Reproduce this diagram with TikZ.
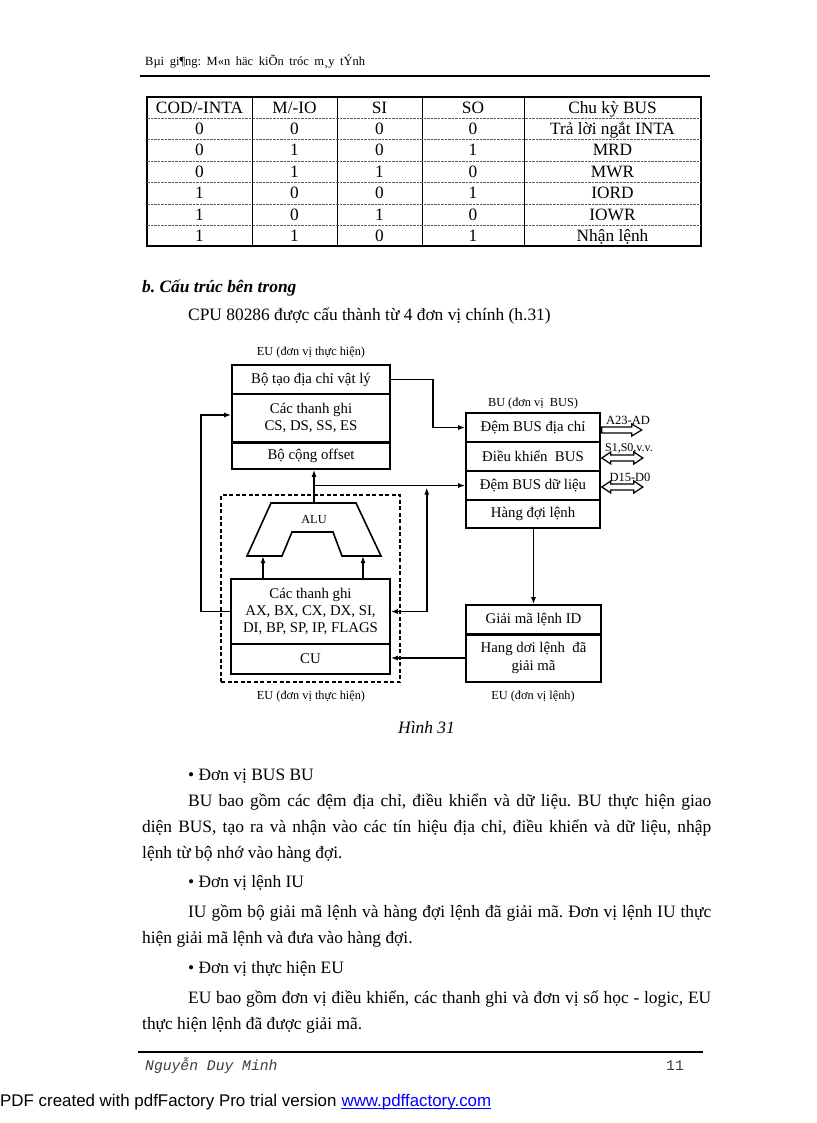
\documentclass[tikz,border=0pt]{standalone}
\usepackage{fontspec}
\setmainfont{Liberation Serif}
\newfontfamily\sansf{Liberation Sans}
\newfontfamily\monof{Liberation Mono}
\usetikzlibrary{arrows.meta,calc}
\definecolor{linkblue}{RGB}{0,0,255}
\definecolor{footgray}{RGB}{60,60,60}
\definecolor{dashgray}{RGB}{90,90,90}
\newcommand\myfs[2]{\fontsize{#1pt}{#2pt}\selectfont}
\frenchspacing
\begin{document}
\frenchspacing
\begin{tikzpicture}[x=1pt,y=-1pt,
  cell/.style={draw, line width=1.6pt, inner sep=0pt, align=center, font=\myfs{14.8}{17}},
  lab/.style={inner sep=0pt, font=\myfs{12.3}{14}},
  body/.style={anchor=base west, inner sep=0pt, font=\myfs{17.4}{20}},
  tcell/.style={anchor=base, inner sep=0pt, font=\myfs{17.3}{20}},
  conn/.style={line width=1.5pt, -{Latex[length=7pt,width=5pt]}},
  bidir/.style={line width=1.5pt, {Latex[length=7pt,width=5pt]}-{Latex[length=7pt,width=5pt]}},
  bus/.style={line width=1.2pt, fill=white, line join=miter}
]
\fill[white] (0,0) rectangle (816,1123);
\useasboundingbox (0,0) rectangle (816,1123);

% ---------- page header ----------
\node[anchor=base west, inner sep=0pt, font=\myfs{12.5}{14}] (hdr) at (145,66)
  {\makebox[220pt][s]{Bµi gi¶ng: M«n häc kiÕn tróc m¸y tÝnh}};
\draw[line width=2.8pt] (140,76) -- (710,76);

% ---------- table ----------
\draw[line width=1.05pt] (147,97) rectangle (701,246);
\foreach \x in {252,337,422,524} \draw[line width=0.95pt] (\x,97) -- (\x,246);
\foreach \y in {118,139,161,182,204,225}
  \draw[line width=0.7pt, dashgray, dash pattern=on 2.5pt off 1pt] (147,\y) -- (701,\y);
\node[tcell] (h1) at (199.5,113.5) {COD/-INTA};
\node[tcell] (h2) at (294.5,113.5) {M/-IO};
\node[tcell] (h3) at (379.5,113.5) {SI};
\node[tcell] (h4) at (473,113.5) {SO};
\node[tcell] (h5) at (612.5,113.5) {Chu kỳ BUS};
\foreach \r/\y/\a/\b/\c/\d/\e in {
  1/134.5/0/0/0/0/Trả lời ngắt INTA,
  2/156/0/1/0/1/MRD,
  3/177.5/0/1/1/0/MWR,
  4/199/1/0/0/1/IORD,
  5/220.5/1/0/1/0/IOWR,
  6/241.5/1/1/0/1/Nhận lệnh}{
  \node[tcell] (r\r c1) at (199.5,\y) {\a};
  \node[tcell] (r\r c2) at (294.5,\y) {\b};
  \node[tcell] (r\r c3) at (379.5,\y) {\c};
  \node[tcell] (r\r c4) at (473,\y) {\d};
  \node[tcell] (r\r c5) at (612.5,\y) {\e};
}

% ---------- heading ----------
\node[body, font=\myfs{17.4}{20}\bfseries\itshape] (head) at (142,292) {b. Cấu trúc bên trong};
\node[body] (intro) at (188,320) {CPU 80286 được cấu thành từ 4 đơn vị chính (h.31)};

% ---------- diagram ----------
\node[lab] (lEUtop) at (311,353) {EU (đơn vị thực hiện)};
\node[cell, minimum width=158pt, minimum height=29pt] (phys) at (311,379.5) {Bộ tạo địa chỉ vật lý};
\node[cell, minimum width=158pt, minimum height=48pt] (cs) at (311,418) {Các thanh ghi\\CS, DS, SS, ES};
\node[cell, minimum width=158pt, minimum height=27pt] (offset) at (311,455.5) {Bộ cộng offset};
\draw[line width=2.6pt] (cs.south west) -- (cs.south east);

\node[lab] (lBU) at (533,404) {BU (đơn vị~ BUS)};
\node[cell, minimum width=134pt, minimum height=29pt] (bufaddr) at (533,427.5) {Đệm BUS địa chỉ};
\node[cell, minimum width=134pt, minimum height=29pt] (busctl) at (533,456.5) {Điều khiển~ BUS};
\node[cell, minimum width=134pt, minimum height=29pt] (bufdata) at (533,485.5) {Đệm BUS dữ liệu};
\node[cell, minimum width=134pt, minimum height=28pt] (queue) at (533,514) {Hàng đợi lệnh};

\node[draw, line width=1.5pt, dash pattern=on 4pt off 2.5pt, minimum width=179pt, minimum height=187pt, inner sep=0pt] (eu) at (310.5,588.5) {};
\node[cell, minimum width=159pt, minimum height=65pt] (regs) at (310.5,611.5) {Các thanh ghi\\AX, BX, CX, DX, SI,\\DI, BP, SP, IP, FLAGS};
\node[cell, minimum width=159pt, minimum height=30pt] (cu) at (310.5,659) {CU};

\draw[line width=1.6pt, line join=miter] (271,503) -- (356,503) -- (381,556) -- (342,556) -- (333,532) -- (292,532) -- (282,556) -- (247,556) -- cycle;
\coordinate (aluTop) at (314,503);
\coordinate (aluL) at (263,556);
\coordinate (aluR) at (363,556);
\node[lab] (alu) at (314,519) {ALU};

\node[cell, minimum width=135pt, minimum height=29pt] (id) at (533.5,619.5) {Giải mã lệnh ID};
\node[cell, minimum width=135pt, minimum height=48pt, font=\myfs{14.8}{18.5}] (qdec) at (533.5,658) {Hang dơi lệnh~ đã\\giải mã};
\draw[line width=2.6pt] (id.south west) -- (id.south east);

\node[lab] (lEUbot) at (311,697) {EU (đơn vị thực hiện)};
\node[lab] (lIU) at (533,697) {EU (đơn vị lệnh)};

% connectors
\draw[conn] (phys.east) -- ++(42,0) |- (bufaddr.west);
\draw[conn] (regs.west) -- ++(-29,0) |- ([yshift=3pt]cs.west);
\draw[conn] (aluTop) -- (aluTop |- offset.south);
\draw[conn] (aluTop |- bufdata.west) -- (bufdata.west);
\draw[bidir] (regs.east) -- ++(36,0) -- ($(regs.east |- bufdata.west)+(36,2)$);
\draw[conn] (regs.north -| aluL) -- (aluL);
\draw[conn] (regs.north -| aluR) -- (aluR);
\draw[conn] (qdec.west) -- (qdec.west -| cu.east);
\draw[conn] (queue.south -| id.north) -- (id.north);

% bus arrows
\coordinate (bA) at ($(bufaddr.east)+(1,2.5)$);
\coordinate (bS) at ($(busctl.east)+(1,1.5)$);
\coordinate (bD) at ($(bufdata.east)+(1,1.5)$);
\draw[bus] (bA) ++(0,-3) -- ++(30,0) -- ++(0,-3) -- ++(10,6) -- ++(-10,6) -- ++(0,-3) -- ++(-30,0) -- cycle;
\draw[bus] (bS) -- ++(9,-6) -- ++(0,3) -- ++(23,0) -- ++(0,-3) -- ++(9,6) -- ++(-9,6) -- ++(0,-3) -- ++(-23,0) -- ++(0,3) -- cycle;
\draw[bus] (bD) -- ++(9,-6) -- ++(0,3) -- ++(23,0) -- ++(0,-3) -- ++(9,6) -- ++(-9,6) -- ++(0,-3) -- ++(-23,0) -- ++(0,3) -- cycle;
\node[lab, font=\myfs{12.5}{14}] (lA) at (628,420) {A23-AD};
\node[lab, font=\myfs{12}{14}] (lS) at (629,448) {S1,S0,v.v.};
\node[lab, font=\myfs{12.5}{14}] (lD) at (630,477) {D15-D0};

\node[body, font=\myfs{17.4}{20}\itshape] (fig) at (398,733) {Hình 31};

% ---------- body text ----------
\node[body] (b1) at (188,780) {• Đơn vị BUS BU};
\node[body] (p1a) at (188,806) {\makebox[523pt][s]{BU bao gồm các đệm địa chỉ, điều khiển và dữ liệu. BU thực hiện giao}};
\node[body] (p1b) at (142,832) {\makebox[569pt][s]{diện BUS, tạo ra và nhận vào các tín hiệu địa chỉ, điều khiển và dữ liệu, nhập}};
\node[body] (p1c) at (142,858) {lệnh từ bộ nhớ vào hàng đợi.};
\node[body] (b2) at (188,887) {• Đơn vị lệnh IU};
\node[body] (p2a) at (188,917) {\makebox[523pt][s]{IU gồm bộ giải mã lệnh và hàng đợi lệnh đã giải mã. Đơn vị lệnh IU thực}};
\node[body] (p2b) at (142,943) {hiện giải mã lệnh và đưa vào hàng đợi.};
\node[body] (b3) at (188,973) {• Đơn vị thực hiện EU};
\node[body] (p3a) at (188,1003) {\makebox[523pt][s]{EU bao gồm đơn vị điều khiển, các thanh ghi và đơn vị số học - logic, EU}};
\node[body] (p3b) at (142,1029) {thực hiện lệnh đã được giải mã.};

% ---------- footer ----------
\draw[line width=2.8pt] (138,1052) -- (703,1052);
\node[anchor=base west, inner sep=0pt, text=footgray, font=\myfs{14.7}{16}\monof\itshape] (auth) at (145,1070) {Nguyễn Duy Minh};
\node[anchor=base west, inner sep=0pt, text=footgray, font=\myfs{14.7}{16}\monof] (pg) at (666,1070) {11};
\node[anchor=base west, inner sep=0pt, font=\myfs{16.9}{19}\sansf] (pdf) at (0,1106) {PDF created with pdfFactory Pro trial version};
\node[anchor=base west, inner sep=0pt, text=linkblue, font=\myfs{16.9}{19}\sansf] (link) at ([xshift=4.7pt]pdf.base east) {www.pdffactory.com};
\draw[linkblue, line width=1pt] ([yshift=-2pt]link.base west) -- ([yshift=-2pt]link.base east);
\end{tikzpicture}
\end{document}
